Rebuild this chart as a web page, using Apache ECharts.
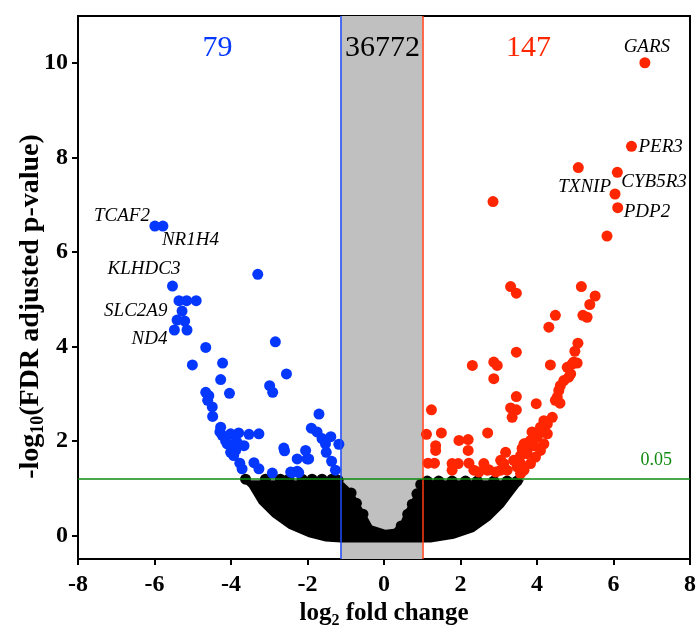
<!DOCTYPE html>
<html>
<head>
<meta charset="utf-8">
<script src="https://cdn.jsdelivr.net/npm/echarts@6/dist/echarts.min.js"></script>
<style>
  html, body { margin: 0; padding: 0; background: #fff; }
  #chart { width: 697px; height: 636px; }
</style>
</head>
<body>
<div id="chart"></div>
<script>
// down-regulated genes (blue)
const blueX = [-5.99, -5.78, -3.30, -5.53, -5.36, -5.16, -4.91, -5.28, -5.41, -5.21, -5.48, -5.15,
  -4.66, -5.01, -4.22, -2.84, -4.27, -2.55, -2.99, -2.91, -4.04, -4.66, -4.58, -4.61, -4.49, -4.48,
  -1.70, -4.27, -4.29, -4.23, -4.01, -3.80, -3.53, -3.27, -1.90, -1.75, -1.39, -1.62, -1.18, -4.10,
  -3.88, -3.66, -4.01, -3.88, -1.53, -1.51, -2.62, -2.60, -2.05, -2.27, -1.97, -1.37, -3.77, -3.71,
  -3.40, -3.27, -2.92, -2.44, -2.27, -1.27, -3.97, -4.14, -3.93, -3.84, -3.80, -2.40, -2.23, -2.01];
const blueY = [6.55, 6.55, 5.53, 5.28, 4.97, 4.97, 4.97, 4.75, 4.56, 4.54, 4.35, 4.35,
  3.98, 3.61, 3.65, 4.10, 3.30, 3.42, 3.17, 3.03, 3.01, 3.03, 2.96, 2.86, 2.72, 2.52,
  2.57, 2.29, 2.19, 2.12, 2.15, 2.17, 2.14, 2.15, 2.27, 2.19, 2.09, 2.05, 1.93, 1.94,
  1.97, 1.90, 1.76, 1.80, 1.94, 1.76, 1.85, 1.79, 1.80, 1.62, 1.62, 1.57, 1.53, 1.41,
  1.54, 1.41, 1.32, 1.34, 1.36, 1.38, 1.87, 2.00, 1.69, 1.97, 1.90, 1.33, 1.33, 1.62];

// up-regulated genes (red)
const redX = [6.82, 6.47, 5.08, 6.10, 6.04, 6.11, 2.85, 5.83, 3.31, 3.46, 5.16, 5.52, 5.38, 4.48,
  5.20, 5.31, 4.31, 5.07, 4.99, 3.46, 2.31, 2.87, 2.96, 2.87, 4.35, 4.79, 4.92, 5.05, 4.83, 4.70,
  4.61, 4.57, 4.53, 4.60, 4.48, 3.46, 3.31, 3.46, 3.35, 3.98, 1.24, 1.11, 1.50, 1.35, 1.35, 1.96,
  2.20, 2.20, 2.71, 1.15, 1.32, 1.78, 1.94, 1.78, 2.22, 2.35, 2.61, 2.70, 3.05, 3.18, 3.05, 3.39,
  3.57, 3.66, 3.74, 3.83, 3.92, 4.00, 4.14, 4.18, 4.27, 4.40, 4.18, 4.09, 3.96, 3.83, 3.66, 3.57,
  3.87, 3.48, 4.09, 4.18, 4.22, 4.27, 3.70, 3.61, 3.74, 3.57, 2.48, 2.74, 2.92, 3.13, 3.22, 4.88,
  4.96];
const redY = [10.01, 8.24, 7.79, 7.69, 7.23, 6.94, 7.07, 6.34, 5.27, 5.13, 5.27, 5.07, 4.89, 4.66,
  4.66, 4.62, 4.41, 4.07, 3.90, 3.88, 3.60, 3.67, 3.60, 3.32, 3.61, 3.56, 3.63, 3.65, 3.35, 3.28,
  3.17, 3.07, 2.93, 2.80, 2.86, 2.94, 2.70, 2.66, 2.50, 2.79, 2.66, 2.14, 2.17, 1.90, 1.80, 2.01,
  2.03, 1.80, 2.17, 1.53, 1.53, 1.52, 1.52, 1.38, 1.53, 1.38, 1.52, 1.38, 1.59, 1.76, 1.38, 1.59,
  1.69, 1.94, 1.80, 2.01, 1.90, 2.08, 2.19, 2.29, 2.36, 2.50, 1.94, 1.80, 1.66, 1.52, 1.38, 1.31,
  2.19, 1.45, 2.29, 2.43, 2.36, 2.15, 1.94, 1.84, 1.73, 1.52, 1.34, 1.39, 1.34, 1.52, 1.38, 3.42,
  3.67];

// outline of the dense cloud of non-significant genes (black)
const cloudX = [-3.72, -1.14, -1.05, -0.83, -0.66, -0.48, -0.31, 0.04, 0.26, 0.43, 0.56, 0.69, 0.78,
  0.91, 1.00, 3.66, 3.39, 3.13, 2.78, 2.35, 1.83, 1.22, -1.14, -1.53, -1.97, -2.49, -2.92, -3.27, -3.53];
const cloudY = [1.17, 1.17, 1.12, 0.95, 0.70, 0.46, 0.21, 0.12, 0.14, 0.28, 0.53, 0.70, 0.85,
  1.02, 1.17, 1.17, 0.88, 0.60, 0.32, 0.07, -0.07, -0.15, -0.15, -0.13, -0.04, 0.14, 0.39, 0.67, 1.02];

// single black dots seen along the cloud edge
const edgeX = [-3.62, -3.10, -2.71, -2.49, -2.14, -1.88, -1.62, -1.36, -1.20, 1.13, 1.43, 1.78, 2.13,
  2.44, 2.87, 3.22, 3.48, -0.86, -0.72, -0.55, 0.45, 0.62, 0.74, 0.86, 0.96];
const edgeY = [1.19, 1.19, 1.19, 1.19, 1.19, 1.19, 1.19, 1.19, 1.17, 1.15, 1.15, 1.15, 1.15,
  1.15, 1.15, 1.15, 1.15, 0.90, 0.68, 0.45, 0.20, 0.45, 0.66, 0.88, 1.08];

// labelled genes
const geneNames = ['GARS', 'PER3', 'TXNIP', 'CYB5R3', 'PDP2', 'TCAF2', 'NR1H4', 'KLHDC3', 'SLC2A9', 'ND4'];
const geneX = [6.82, 6.47, 6.04, 6.10, 6.11, -5.99, -5.78, -5.53, -5.27, -5.48];
const geneY = [10.01, 8.24, 7.23, 7.69, 6.94, 6.55, 6.55, 5.28, 4.75, 4.35];

// counts per region and threshold label
const countText = ['79', '36772', '147'];
const countX = [-4.35, -0.04, 3.78];
const countY = [10.32, 10.32, 10.32];

const foldCutLow = -1.14;
const foldCutHigh = 1.0;
const pCut = 1.19;
const pCutText = '0.05';

const xTicks = [-8, -6, -4, -2, 0, 2, 4, 6, 8];
const yTicks = [0, 2, 4, 6, 8, 10];

// ---- styles ----
const F = 'Liberation Serif';
const BLUE = '#0538ff';
const RED = '#ff2600';
const GREEN = '#0f8a0f';
const geneLabelPos = [
  { align: 'center', offset: [2, -16] },
  { align: 'left', offset: [7, 1] },
  { align: 'right', offset: [-4, -7] },
  { align: 'left', offset: [4, 10] },
  { align: 'left', offset: [6, 4] },
  { align: 'right', offset: [-5, -10] },
  { align: 'left', offset: [-1, 14] },
  { align: 'right', offset: [8, -17] },
  { align: 'right', offset: [-15, 0] },
  { align: 'right', offset: [-7, 9] }
];
const countColors = [BLUE, '#000', RED];

const pairs = (xs, ys) => xs.map((x, i) => [x, ys[i]]);

const chart = echarts.init(document.getElementById('chart'));

const option = {
  animation: false,
  backgroundColor: '#fff',
  grid: {
    left: 78, right: 7, top: 16, bottom: 77, outerBoundsMode: 'none',
    show: true, borderColor: '#000', borderWidth: 2
  },
  xAxis: {
    type: 'value', min: -8, max: 8, interval: 2,
    splitLine: { show: false },
    axisLine: { onZero: false, lineStyle: { color: '#000', width: 2 } },
    axisTick: { length: 6, lineStyle: { color: '#000', width: 2 } },
    axisLabel: { margin: 14, fontFamily: F, fontWeight: 'bold', fontSize: 24, color: '#000' },
    name: '{a|log}{s|2}{a| fold change}',
    nameLocation: 'middle', nameGap: 40, nameMoveOverlap: false,
    nameTextStyle: {
      rich: {
        a: { fontFamily: F, fontWeight: 'bold', fontSize: 25, lineHeight: 30, color: '#000' },
        s: { fontFamily: F, fontWeight: 'bold', fontSize: 16, lineHeight: 14, verticalAlign: 'bottom', color: '#000' }
      }
    }
  },
  yAxis: {
    type: 'value', min: -0.5, max: 11,
    splitLine: { show: false },
    axisLine: { onZero: false, lineStyle: { color: '#000', width: 2 } },
    axisTick: { length: 6, customValues: yTicks, lineStyle: { color: '#000', width: 2 } },
    axisLabel: { customValues: yTicks, margin: 10, fontFamily: F, fontWeight: 'bold', fontSize: 24, color: '#000' },
    name: '{a|-log}{s|10}{a|(FDR adjusted p-value)}',
    nameLocation: 'middle', nameGap: 31, nameRotate: 90, nameMoveOverlap: false,
    nameTextStyle: {
      padding: [0, 38, 0, 0],
      rich: {
        a: { fontFamily: F, fontWeight: 'bold', fontSize: 28, lineHeight: 32, color: '#000' },
        s: { fontFamily: F, fontWeight: 'bold', fontSize: 18, lineHeight: 14, verticalAlign: 'bottom', color: '#000' }
      }
    }
  },
  series: [
    {
      // grey band of small fold changes
      type: 'scatter', data: [], z: 1, silent: true,
      markArea: {
        silent: true,
        itemStyle: { color: '#c0c0c0', opacity: 1 },
        data: [[{ xAxis: foldCutLow }, { xAxis: foldCutHigh }]]
      }
    },
    {
      type: 'custom', z: 2, silent: true, clip: true,
      data: pairs(cloudX, cloudY),
      renderItem: function (params, api) {
        if (params.dataIndex !== 0) return null;
        const pts = cloudX.map((x, i) => api.coord([x, cloudY[i]]));
        return { type: 'polygon', shape: { points: pts }, style: { fill: '#000' } };
      }
    },
    {
      type: 'scatter', z: 2, silent: true, symbolSize: 11,
      itemStyle: { color: '#000', opacity: 1 },
      data: pairs(edgeX, edgeY)
    },
    {
      type: 'scatter', data: [], z: 3, silent: true,
      markLine: {
        silent: true, symbol: 'none', label: { show: false },
        data: [
          { xAxis: foldCutLow, lineStyle: { color: '#1f4dff', width: 1.5, type: 'solid', opacity: 1 } },
          { xAxis: foldCutHigh, lineStyle: { color: '#ff3a14', width: 1.5, type: 'solid', opacity: 1 } },
          { yAxis: pCut, lineStyle: { color: GREEN, width: 1.5, type: 'solid', opacity: 1 } }
        ]
      }
    },
    {
      type: 'scatter', z: 4, symbolSize: 11,
      itemStyle: { color: BLUE, opacity: 1 },
      data: pairs(blueX, blueY)
    },
    {
      type: 'scatter', z: 4, symbolSize: 11,
      itemStyle: { color: RED, opacity: 1 },
      data: pairs(redX, redY)
    },
    {
      // gene names
      type: 'scatter', z: 5, silent: true, symbolSize: 1,
      itemStyle: { color: 'rgba(0,0,0,0)', opacity: 1 },
      data: geneNames.map((n, i) => ({
        value: [geneX[i], geneY[i]],
        name: n,
        label: {
          show: true, position: 'inside', verticalAlign: 'middle',
          align: geneLabelPos[i].align, offset: geneLabelPos[i].offset,
          formatter: n, fontFamily: F, fontStyle: 'italic', fontSize: 19, color: '#000'
        }
      }))
    },
    {
      // counts per region + threshold
      type: 'scatter', z: 5, silent: true, symbolSize: 1,
      itemStyle: { color: 'rgba(0,0,0,0)', opacity: 1 },
      data: countText.map((t, i) => ({
        value: [countX[i], countY[i]],
        label: {
          show: true, position: 'inside', align: 'center', verticalAlign: 'middle',
          formatter: t, fontFamily: F, fontSize: 30, color: countColors[i]
        }
      })).concat([{
        value: [7.12, pCut + 0.4],
        label: {
          show: true, position: 'inside', align: 'center', verticalAlign: 'middle',
          formatter: pCutText, fontFamily: F, fontSize: 18, color: GREEN
        }
      }])
    }
  ]
};

chart.setOption(option);
</script>
</body>
</html>
